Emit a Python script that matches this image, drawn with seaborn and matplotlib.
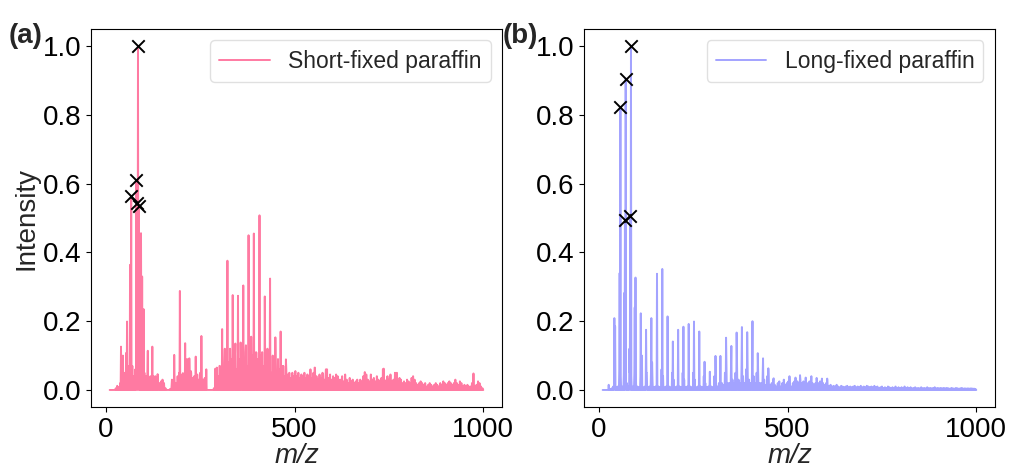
import numpy as np
import matplotlib
matplotlib.use("Agg")
import matplotlib.pyplot as plt
import seaborn as sns

# ---------------- data ----------------
mz_start, mz_end = 10, 1000

# (a) Short-fixed paraffin: principal peaks
a_peak_mz = [40, 42, 45, 54, 56, 64, 67, 81, 83, 85, 87, 93, 96, 100, 111, 123, 131, 137, 150,
             175, 181, 196, 204, 210, 215, 221, 225, 238, 253, 266, 290, 294, 301, 308, 315,
             322, 329, 336, 343, 350, 357, 364, 371, 378, 385, 392, 399, 407, 414, 421, 428,
             435, 442, 449, 456, 463, 470, 477, 553, 583, 686, 736, 771, 974]
a_peak_int = [0.126, 0.09, 0.10, 0.108, 0.199, 0.364, 0.563, 0.61, 0.545, 1.0, 0.534, 0.456, 0.33,
              0.235, 0.114, 0.126, 0.04, 0.046, 0.03, 0.03, 0.102, 0.288, 0.049, 0.136, 0.09,
              0.092, 0.055, 0.097, 0.157, 0.06, 0.062, 0.065, 0.07, 0.177, 0.12, 0.376, 0.12,
              0.276, 0.135, 0.274, 0.138, 0.304, 0.13, 0.45, 0.155, 0.455, 0.108, 0.508, 0.11,
              0.272, 0.12, 0.324, 0.1, 0.153, 0.09, 0.17, 0.07, 0.089, 0.065, 0.06, 0.052,
              0.062, 0.05, 0.048]
# (a) dense low-level peaks, every 4 m/z from 22 to 998
a_bg_int = [
    0.0, 0.005, 0.012, 0.008, 0.02, 0.03, 0.025, 0.05, 0.04, 0.07, 0.06, 0.05, 0.07, 0.04, 0.06, 0.05, 0.07, 0.05, 0.06, 0.04, 0.05, 0.04, 0.05, 0.03, 0.04,
    0.03, 0.04, 0.02, 0.035, 0.03, 0.02, 0.025, 0.01, 0.02, 0.005, 0.0, 0.0, 0.003, 0.01, 0.02, 0.03, 0.02, 0.04, 0.05, 0.03, 0.045, 0.03, 0.05, 0.04, 0.035,
    0.04, 0.05, 0.035, 0.04, 0.03, 0.045, 0.03, 0.05, 0.04, 0.03, 0.035, 0.02, 0.0, 0.0, 0.0, 0.0, 0.005, 0.05, 0.06, 0.04, 0.07, 0.05, 0.06, 0.08, 0.06,
    0.06, 0.08, 0.05, 0.09, 0.07, 0.1, 0.06, 0.08, 0.09, 0.07, 0.1, 0.08, 0.11, 0.07, 0.09, 0.12, 0.08, 0.1, 0.07, 0.11, 0.09, 0.06, 0.1, 0.08, 0.07,
    0.08, 0.06, 0.09, 0.07, 0.05, 0.08, 0.06, 0.07, 0.05, 0.06, 0.04, 0.07, 0.05, 0.04, 0.06, 0.045, 0.05, 0.035, 0.05, 0.04, 0.055, 0.04, 0.05, 0.035, 0.045,
    0.04, 0.05, 0.035, 0.045, 0.04, 0.06, 0.035, 0.05, 0.065, 0.04, 0.03, 0.045, 0.035, 0.05, 0.03, 0.04, 0.06, 0.035, 0.045, 0.03, 0.04, 0.035, 0.045, 0.04, 0.03,
    0.03, 0.04, 0.025, 0.045, 0.03, 0.02, 0.035, 0.025, 0.03, 0.02, 0.025, 0.03, 0.02, 0.03, 0.025, 0.04, 0.02, 0.045, 0.03, 0.025, 0.045, 0.03, 0.035, 0.025, 0.04,
    0.03, 0.025, 0.035, 0.06, 0.03, 0.025, 0.04, 0.03, 0.045, 0.025, 0.03, 0.05, 0.03, 0.025, 0.035, 0.03, 0.02, 0.025, 0.02, 0.03, 0.025, 0.02, 0.035, 0.04, 0.03,
    0.02, 0.015, 0.02, 0.025, 0.02, 0.015, 0.02, 0.01, 0.015, 0.02, 0.015, 0.01, 0.015, 0.02, 0.015, 0.01, 0.02, 0.015, 0.025, 0.02, 0.015, 0.02, 0.025, 0.02, 0.015,
    0.02, 0.03, 0.02, 0.015, 0.025, 0.02, 0.01, 0.015, 0.01, 0.015, 0.01, 0.01, 0.02, 0.01, 0.012, 0.015, 0.025, 0.02, 0.01, 0.005,
]

# (b) Long-fixed paraffin: principal peaks
b_peak_mz = [26, 41, 43, 55, 57, 67, 69, 71, 81, 83, 85, 95, 97, 111, 114, 125, 127, 139, 141,
             154, 168, 182, 196, 210, 224, 238, 252, 266, 280, 294, 309, 322, 337, 351, 365,
             379, 393, 407, 421, 435, 449, 463, 505, 521, 533, 548, 563, 577, 591, 605]
b_peak_int = [0.015, 0.209, 0.185, 0.34, 0.823, 0.282, 0.493, 0.906, 0.12, 0.505, 1.0, 0.24,
              0.327, 0.223, 0.10, 0.175, 0.05, 0.209, 0.08, 0.338, 0.352, 0.214, 0.141, 0.175,
              0.184, 0.192, 0.199, 0.17, 0.082, 0.053, 0.099, 0.099, 0.152, 0.128, 0.167, 0.183,
              0.168, 0.200, 0.107, 0.092, 0.063, 0.034, 0.04, 0.036, 0.043, 0.036, 0.04, 0.035,
              0.033, 0.033]
# (b) dense low-level peaks, every 4 m/z from 22 to 998
b_bg_int = [
    0.0, 0.0, 0.003, 0.005, 0.01, 0.02, 0.008, 0.01, 0.06, 0.04, 0.01, 0.05, 0.06, 0.02, 0.01, 0.05, 0.04, 0.01, 0.05, 0.04, 0.01, 0.008, 0.04, 0.02, 0.008,
    0.01, 0.05, 0.008, 0.01, 0.05, 0.03, 0.008, 0.01, 0.06, 0.01, 0.008, 0.06, 0.04, 0.008, 0.01, 0.06, 0.01, 0.008, 0.05, 0.03, 0.008, 0.01, 0.05, 0.01, 0.008,
    0.05, 0.03, 0.008, 0.01, 0.06, 0.01, 0.008, 0.05, 0.03, 0.008, 0.01, 0.05, 0.01, 0.008, 0.04, 0.02, 0.008, 0.01, 0.03, 0.01, 0.008, 0.04, 0.03, 0.01, 0.02,
    0.06, 0.02, 0.015, 0.05, 0.07, 0.02, 0.02, 0.07, 0.03, 0.02, 0.05, 0.08, 0.03, 0.02, 0.07, 0.04, 0.02, 0.06, 0.07, 0.03, 0.02, 0.08, 0.04, 0.02, 0.05,
    0.06, 0.02, 0.02, 0.05, 0.03, 0.015, 0.04, 0.03, 0.015, 0.02, 0.03, 0.015, 0.01, 0.02, 0.025, 0.01, 0.02, 0.03, 0.015, 0.02, 0.025, 0.015, 0.01, 0.02, 0.025,
    0.02, 0.025, 0.02, 0.03, 0.02, 0.025, 0.02, 0.015, 0.02, 0.025, 0.015, 0.02, 0.015, 0.02, 0.015, 0.02, 0.025, 0.015, 0.02, 0.015, 0.02, 0.015, 0.012, 0.015, 0.01,
    0.012, 0.01, 0.015, 0.01, 0.008, 0.012, 0.01, 0.008, 0.01, 0.012, 0.008, 0.01, 0.008, 0.01, 0.012, 0.008, 0.01, 0.008, 0.012, 0.008, 0.01, 0.008, 0.012, 0.01, 0.008,
    0.01, 0.008, 0.012, 0.008, 0.01, 0.006, 0.008, 0.01, 0.006, 0.008, 0.006, 0.01, 0.008, 0.006, 0.008, 0.006, 0.01, 0.006, 0.008, 0.006, 0.008, 0.006, 0.01, 0.006, 0.008,
    0.006, 0.008, 0.005, 0.006, 0.008, 0.005, 0.006, 0.005, 0.008, 0.005, 0.006, 0.005, 0.008, 0.005, 0.006, 0.005, 0.006, 0.008, 0.005, 0.006, 0.005, 0.006, 0.005, 0.006, 0.005,
    0.006, 0.005, 0.004, 0.006, 0.005, 0.004, 0.006, 0.005, 0.004, 0.005, 0.006, 0.004, 0.005, 0.004, 0.005, 0.004, 0.005, 0.004, 0.004, 0.003,
]
bg_first_mz, bg_step = 22, 4

labels = ["Short-fixed paraffin", "Long-fixed paraffin"]
panel_tags = ["(a)", "(b)"]
colors = ["#ff7aa2", "#a3a3ff"]
n_marked = 5


def build_spectrum(peak_mz, peak_int, bg_int):
    mz = np.arange(mz_start, mz_end + 1)
    inten = np.zeros(mz.size)
    bg_mz = bg_first_mz + bg_step * np.arange(len(bg_int))
    inten[bg_mz - mz_start] = bg_int
    np.maximum.at(inten, np.asarray(peak_mz) - mz_start, np.asarray(peak_int))
    return mz, inten


# ---------------- plot ----------------
sns.set_theme(style="ticks")
plt.rcParams["font.family"] = ["Liberation Sans", "DejaVu Sans"]
plt.rcParams.update({
    "axes.edgecolor": "black",
    "axes.linewidth": 0.8,
    "xtick.major.size": 3.5,
    "ytick.major.size": 3.5,
    "xtick.major.width": 0.8,
    "ytick.major.width": 0.8,
    "xtick.color": "black",
    "ytick.color": "black",
})

fig = plt.figure(figsize=(10.10, 4.68), dpi=100)
ax_a = fig.add_axes([0.0901, 0.130, 0.4069, 0.808])
ax_b = fig.add_axes([0.5782, 0.130, 0.4069, 0.808])

datasets = [(a_peak_mz, a_peak_int, a_bg_int), (b_peak_mz, b_peak_int, b_bg_int)]
for ax, (pm, pi, bg), lab, col, tag in zip([ax_a, ax_b], datasets, labels, colors, panel_tags):
    mz, inten = build_spectrum(pm, pi, bg)
    sns.lineplot(x=mz, y=inten, ax=ax, color=col, linewidth=1.4, label=lab,
                 estimator=None, sort=False)
    top = np.argsort(inten)[::-1][:n_marked]
    sns.scatterplot(x=mz[top], y=inten[top], ax=ax, marker="x", color="black",
                    s=80, linewidth=1.4, zorder=5)
    ax.set_xticks([0, 500, 1000])
    ax.set_yticks([0.0, 0.2, 0.4, 0.6, 0.8, 1.0])
    ax.tick_params(labelsize=20)
    ax.set_xlabel("m/z", fontsize=20, style="italic", labelpad=0)
    leg = ax.legend(loc="upper right", fontsize=16.5, handlelength=2.2)
    leg.get_frame().set_edgecolor("0.85")

ax_a.set_ylabel("Intensity", fontsize=20, labelpad=2)
ax_b.set_ylabel("")

fig.text(0.009, 0.908, "(a)", fontsize=20, fontweight="bold", va="baseline")
fig.text(0.498, 0.908, "(b)", fontsize=20, fontweight="bold", va="baseline")

fig.savefig("out.png", dpi=100)
